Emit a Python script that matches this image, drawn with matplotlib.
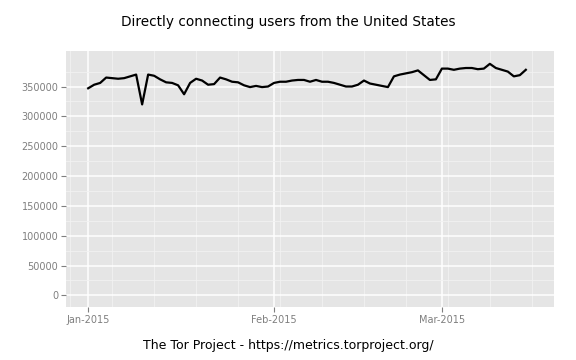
import pandas as pd
import matplotlib
matplotlib.use("Agg")
import matplotlib.pyplot as plt
import matplotlib.dates as mdates
import matplotlib.ticker as mticker

# data: daily directly connecting users, US, Jan 1 - Mar 15 2015
dates = pd.date_range("2015-01-01", "2015-03-15", freq="D")
users_jan = [347000, 353000, 356000, 365000, 364000, 363000, 364000, 367000, 370000, 320000,
             370000, 368000, 362000, 357000, 356000, 352000, 337000, 356000, 363000, 360000,
             353000, 354000, 365000, 362000, 358000, 357000, 352000, 349000, 351000, 349000,
             350000]
users_feb = [356000, 358000, 358000, 360000, 361000, 361000, 358000, 361000, 358000, 358000,
             356000, 353000, 350000, 350000, 353000, 360000, 355000, 353000, 351000, 349000,
             367000, 370000, 372000, 374000, 377000, 369000, 361000, 362000]
users_mar = [380000, 380000, 378000, 380000, 381000, 381000, 379000, 380000, 388000, 381000,
             378000, 375000, 367000, 369000, 378000]
users = users_jan + users_feb + users_mar

y_breaks = [0, 50000, 100000, 150000, 200000, 250000, 300000, 350000]
y_minor = [25000, 75000, 125000, 175000, 225000, 275000, 325000, 375000]

title = "Directly connecting users from the United States"
caption = "The Tor Project - https://metrics.torproject.org/"

fig = plt.figure(figsize=(5.76, 3.6), dpi=100)
ax = fig.add_axes([66 / 576, 1 - 307 / 360, (554 - 66) / 576, (307 - 51) / 360])

ax.set_facecolor("#e5e5e5")
ax.plot(dates, users, color="black", lw=1.6, zorder=3)

# ggplot-like expansion (range runs to Mar 16)
x0 = dates[0]
x1 = dates[-1] + pd.Timedelta(days=1)
pad = (x1 - x0) * 0.05
ax.set_xlim(x0 - pad, x1 + pad)
ax.set_ylim(-19500, 409500)

ax.xaxis.set_major_locator(mdates.MonthLocator())
ax.xaxis.set_major_formatter(mdates.DateFormatter("%b-%Y"))
ax.xaxis.set_minor_locator(mdates.WeekdayLocator(byweekday=mdates.MO))
ax.yaxis.set_major_locator(mticker.FixedLocator(y_breaks))
ax.yaxis.set_minor_locator(mticker.FixedLocator(y_minor))
ax.yaxis.set_major_formatter(mticker.FuncFormatter(lambda v, p: "%d" % v))

ax.grid(which="major", color="white", lw=1.1)
ax.grid(which="minor", color="#f2f2f2", lw=0.6)
ax.set_axisbelow(True)
for s in ax.spines.values():
    s.set_visible(False)

ax.tick_params(which="major", length=3.5, width=0.8, color="#7f7f7f",
               labelcolor="#7f7f7f", labelsize=7, pad=2)
ax.tick_params(which="minor", length=0)

fig.text(0.5, 1 - 22 / 360, title, ha="center", va="center", fontsize=9.8)
fig.text(0.5, 1 - 345 / 360, caption, ha="center", va="center", fontsize=9)

fig.savefig("out.png", dpi=100)
